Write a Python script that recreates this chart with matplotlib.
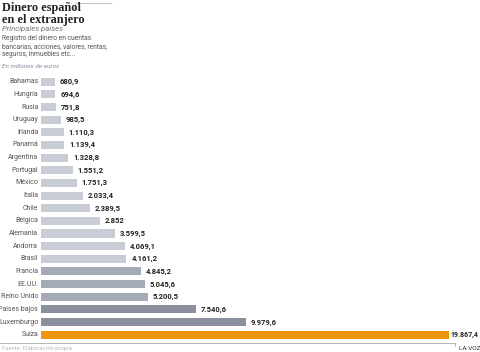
import matplotlib.pyplot as plt
from matplotlib.lines import Line2D

paises = ['Bahamas', 'Hungría', 'Rusia', 'Uruguay', 'Irlanda', 'Panamá', 'Argentina',
          'Portugal', 'México', 'Italia', 'Chile', 'Bélgica', 'Alemania', 'Andorra',
          'Brasil', 'Francia', 'EE.UU.', 'Reino Unido', 'Países bajos', 'Luxemburgo', 'Suiza']
valores = [680.9, 694.6, 751.8, 985.5, 1110.3, 1139.4, 1328.8, 1551.2, 1751.3, 2033.4,
           2389.5, 2852, 3599.5, 4069.1, 4161.2, 4845.2, 5045.6, 5200.5, 7540.6, 9979.6,
           19867.4]
etiquetas = ['680,9', '694,6', '751,8', '985,5', '1.110,3', '1.139,4', '1.328,8', '1.551,2',
             '1.751,3', '2.033,4', '2.389,5', '2.852', '3.599,5', '4.069,1', '4.161,2',
             '4.845,2', '5.045,6', '5.200,5', '7.540,6', '9.979,6', '19.867,4']
colores = ['#c8ccd5'] * 15 + ['#a4aab7'] * 3 + ['#8a909d'] * 2 + ['#f0960a']

plt.rcParams['font.family'] = ['Roboto', 'DejaVu Sans']

W, H = 480, 352
fig = plt.figure(figsize=(4.8, 3.52), dpi=100)

# ejes de las barras (en pixeles de figura)
left, right, top, bottom = 41, 470, 75.4, 341
ax = fig.add_axes([left / W, (H - bottom) / H, (right - left) / W, (bottom - top) / H])
y = list(range(len(paises)))
ax.barh(y, valores, height=0.64, color=colores)
ax.set_xlim(0, 19867.4 * (right - left) / 408)
ax.set_ylim(len(paises) - 0.5, -0.5)
ax.axis('off')
for i, (p, v, e) in enumerate(zip(paises, valores, etiquetas)):
    ax.annotate(p, (0, i), xytext=(-2, 0), textcoords='offset points', ha='right',
                va='center', fontsize=5.0, color='#555555')
    ultimo = i == len(paises) - 1
    ax.annotate(e, (v, i), xytext=(0.8 if ultimo else 3.5, 0), textcoords='offset points',
                ha='left', va='center', fontsize=5.0 if ultimo else 5.5,
                color='#222222', fontweight='bold')

# cabecera
fig.text(2 / W, 1 - 2 / H, 'Dinero español\nen el extranjero', ha='left', va='top',
         fontsize=8.8, fontweight='bold', family='Liberation Serif', color='#222222',
         linespacing=0.95)
fig.add_artist(Line2D([74 / W, 76 / W, 112 / W], [1 - 10 / H, 1 - 3.5 / H, 1 - 3.5 / H],
                      color='#bbbbbb', lw=0.6))
fig.text(2 / W, 1 - 28.5 / H, 'Principales países', ha='left', va='center', fontsize=5.6,
         style='italic', color='#777777')
fig.text(2 / W, 1 - 34.5 / H, 'Registro del dinero en cuentas\nbancarias, acciones, valores, rentas,\nseguros, inmuebles etc...',
         ha='left', va='top', fontsize=4.8, color='#555555', linespacing=1.3)
fig.text(2 / W, 1 - 66 / H, 'En millones de euros', ha='left', va='center', fontsize=4.6,
         style='italic', color='#8890a0')

# pie
fig.add_artist(Line2D([0, 455 / W, 455 / W], [1 - 342.5 / H, 1 - 342.5 / H, 1 - 346 / H],
                      color='#aaaaaa', lw=0.6))
fig.text(2 / W, 1 - 348.5 / H, 'Fuente: Elaboración propia', ha='left', va='center',
         fontsize=4.2, color='#bbbbbb')
fig.text(459 / W, 1 - 348.5 / H, 'LA VOZ', ha='left', va='center', fontsize=4.6,
         color='#333333')

fig.savefig('out.png', dpi=100)
